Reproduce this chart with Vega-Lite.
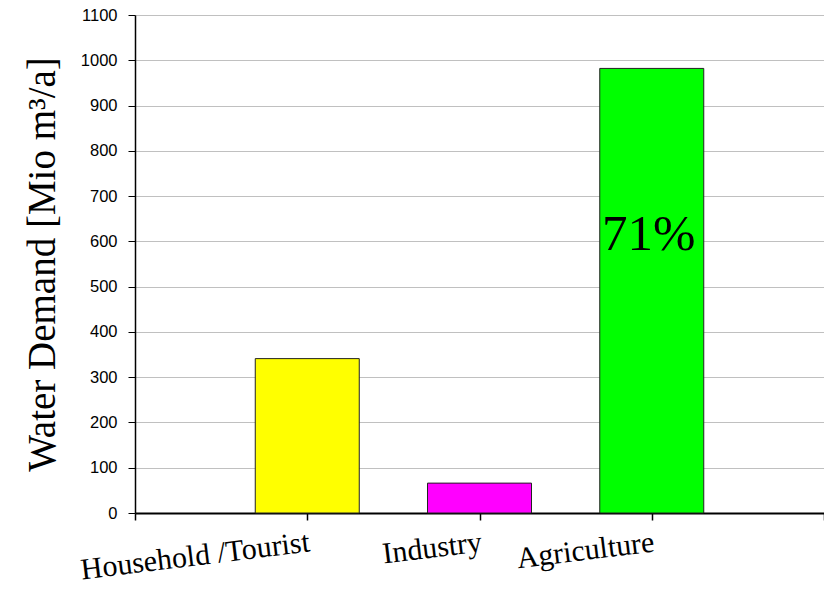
{
  "$schema": "https://vega.github.io/schema/vega-lite/v6.json",
  "width": 689,
  "height": 498,
  "autosize": {"type": "none"},
  "padding": {"left": 135, "top": 15, "right": 0, "bottom": 78},
  "background": "white",
  "config": {
    "view": {"stroke": null},
    "axis": {"domainColor": "black", "tickColor": "black", "labelColor": "black", "titleColor": "black"}
  },
  "layer": [
    {
      "data": {"values": [
        {"category": "Household /Tourist", "demand": 341},
        {"category": "Industry", "demand": 66},
        {"category": "Agriculture", "demand": 982}
      ]},
      "mark": {"type": "bar", "size": 104, "stroke": "#222222", "strokeWidth": 1},
      "encoding": {
        "x": {
          "field": "category", "type": "nominal",
          "scale": {"type": "point", "domain": [" ", "Household /Tourist", "Industry", "Agriculture", "  "], "padding": 0},
          "axis": {
            "title": null, "labelAngle": -7, "labelAlign": "right", "labelBaseline": "top",
            "labelFont": "Liberation Serif", "labelFontSize": 30, "labelPadding": 7, "labelLimit": 0,
            "tickSize": 7, "domainWidth": 2, "tickWidth": 1.5, "labelOverlap": false, "labelBound": false
          }
        },
        "y": {
          "field": "demand", "type": "quantitative",
          "scale": {"domain": [0, 1100], "nice": false},
          "axis": {
            "title": "Water Demand [Mio m³/a]", "values": [0,100,200,300,400,500,600,700,800,900,1000,1100],
            "format": "d", "domainWidth": 1.5,
            "labelFont": "Liberation Sans", "labelFontSize": 16.5, "labelPadding": 11, "tickSize": 7,
            "grid": true, "gridColor": "#c0c0c0", "gridWidth": 1.2,
            "titleFont": "Liberation Serif", "titleFontSize": 39, "titleFontWeight": "normal", "titlePadding": 18
          }
        },
        "color": {
          "field": "category", "type": "nominal",
          "scale": {"domain": ["Household /Tourist", "Industry", "Agriculture"], "range": ["#ffff00", "#ff00ff", "#00ff00"]},
          "legend": null
        }
      }
    },
    {
      "mark": {"type": "rule", "color": "black", "strokeWidth": 1.5},
      "encoding": {"y": {"datum": 1100}}
    },
    {
      "data": {"values": [{"category": "Agriculture", "label": "71%"}]},
      "mark": {"type": "text", "font": "Liberation Serif", "fontSize": 51, "color": "black", "baseline": "alphabetic", "dx": -3},
      "encoding": {
        "x": {"field": "category", "type": "nominal"},
        "y": {"datum": 581},
        "text": {"field": "label"}
      }
    }
  ]
}
